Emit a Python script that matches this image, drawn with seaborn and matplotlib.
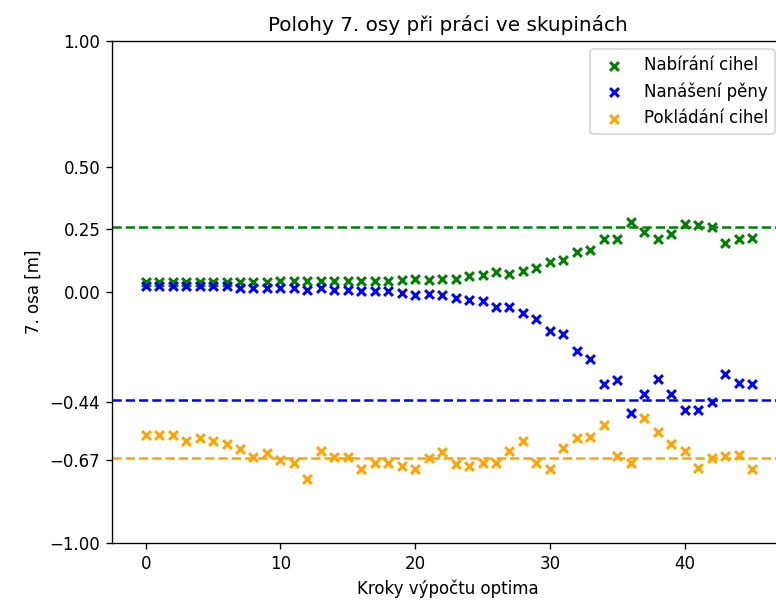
import numpy as np
import pandas as pd
import matplotlib
matplotlib.use("Agg")
import matplotlib.pyplot as plt
import seaborn as sns

steps = list(range(46))

nabirani = [0.038, 0.038, 0.038, 0.038, 0.038, 0.038, 0.038, 0.038, 0.038, 0.038,
            0.043, 0.043, 0.043, 0.043, 0.043, 0.043, 0.043, 0.043, 0.043, 0.048,
            0.052, 0.048, 0.052, 0.052, 0.063, 0.068, 0.078, 0.071, 0.082, 0.097,
            0.120, 0.126, 0.158, 0.168, 0.212, 0.212, 0.277, 0.238, 0.212, 0.232,
            0.271, 0.266, 0.257, 0.195, 0.212, 0.217]

nanaseni = [0.022, 0.022, 0.022, 0.022, 0.022, 0.022, 0.022, 0.015, 0.015, 0.015,
            0.015, 0.015, 0.009, 0.015, 0.009, 0.009, 0.005, 0.005, 0.005, -0.002,
            -0.011, -0.006, -0.011, -0.022, -0.031, -0.037, -0.058, -0.058, -0.085, -0.108,
            -0.155, -0.166, -0.237, -0.266, -0.368, -0.352, -0.482, -0.405, -0.346, -0.405,
            -0.471, -0.471, -0.438, -0.325, -0.362, -0.368]

pokladani = [-0.568, -0.568, -0.568, -0.594, -0.583, -0.594, -0.605, -0.626, -0.658, -0.642,
             -0.669, -0.680, -0.745, -0.632, -0.658, -0.658, -0.706, -0.680, -0.680, -0.695,
             -0.706, -0.660, -0.636, -0.685, -0.695, -0.680, -0.680, -0.632, -0.594, -0.680,
             -0.706, -0.622, -0.583, -0.578, -0.531, -0.654, -0.680, -0.503, -0.557, -0.605,
             -0.632, -0.700, -0.663, -0.654, -0.648, -0.706]

series_names = ["Nabírání cihel", "Nanášení pěny", "Pokládání cihel"]
series_colors = ["green", "blue", "orange"]
reference_levels = [0.26, -0.432, -0.660]
ytick_values = [1.00, 0.50, 0.25, 0.00, -0.44, -0.67, -1.00]

title = "Polohy 7. osy při práci ve skupinách"
xlabel = "Kroky výpočtu optima"
ylabel = "7. osa [m]"

df = pd.DataFrame({
    "krok": steps * 3,
    "hodnota": nabirani + nanaseni + pokladani,
    "serie": [series_names[0]] * 46 + [series_names[1]] * 46 + [series_names[2]] * 46,
})

DPI = 120
fig = plt.figure(figsize=(776 / DPI, 606 / DPI), dpi=DPI)
ax = fig.add_axes([112 / 776, 1 - 543 / 606, (783 - 112) / 776, (543 - 41) / 606])

for name, color in zip(series_names, series_colors):
    sub = df[df["serie"] == name]
    sns.scatterplot(data=sub, x="krok", y="hodnota", ax=ax, color=color,
                    marker="x", s=28, linewidth=1.8, label=name)

for lvl, color in zip(reference_levels, series_colors):
    ax.axhline(lvl, color=color, linestyle="--", linewidth=1.5)

ax.set_xlim(-2.5, 47.3)
ax.set_ylim(-1.0, 1.0)
ax.set_yticks(ytick_values)
ax.set_xticks([0, 10, 20, 30, 40])
ax.set_title(title, fontsize=12)
ax.set_xlabel(xlabel)
ax.set_ylabel(ylabel)
ax.legend(loc="upper right")

fig.savefig("out.png", dpi=DPI)
